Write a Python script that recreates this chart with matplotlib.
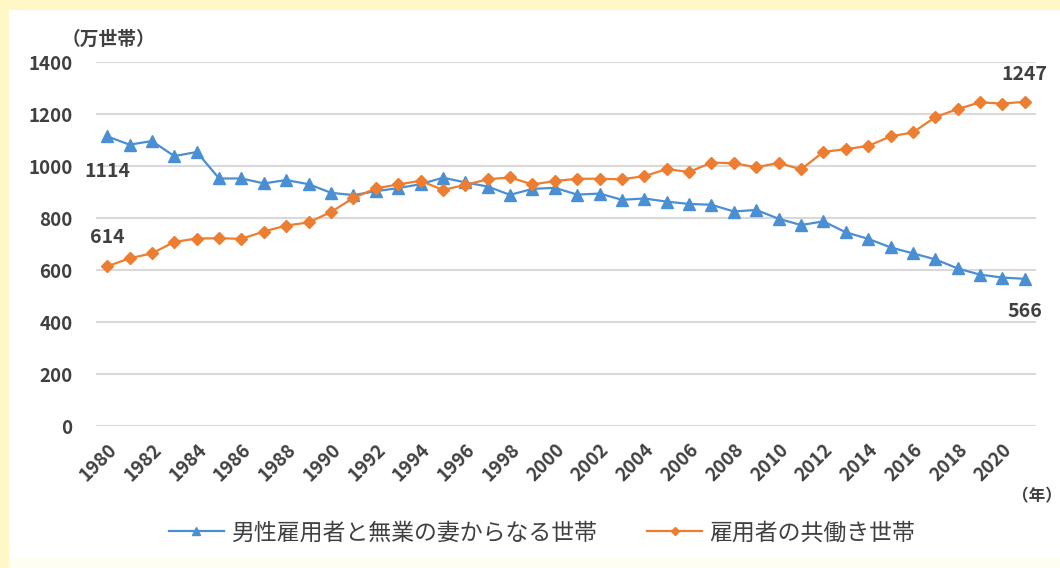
import matplotlib
matplotlib.use('Agg')
import matplotlib.pyplot as plt
from matplotlib.patches import Rectangle

plt.rcParams['font.family'] = ['Noto Sans CJK JP', 'DejaVu Sans']

# Datos
years = list(range(1980, 2022))
single_income = [1114, 1082, 1096, 1038, 1054, 952, 952, 933, 946, 930,
                 897, 888, 903, 915, 930, 955, 937, 921, 889, 912,
                 916, 890, 894, 870, 875, 863, 854, 851, 825, 831,
                 797, 773, 787, 745, 720, 687, 664, 641, 606, 582,
                 571, 566]
dual_income = [614, 645, 664, 708, 721, 722, 720, 748, 771, 783,
               823, 877, 914, 929, 943, 908, 927, 949, 956, 929,
               942, 951, 951, 949, 961, 988, 977, 1013, 1011, 995,
               1012, 987, 1054, 1065, 1077, 1114, 1129, 1188, 1219, 1245,
               1240, 1247]
label_single = '男性雇用者と無業の妻からなる世帯'
label_dual = '雇用者の共働き世帯'
yticks = [0, 200, 400, 600, 800, 1000, 1200, 1400]
xticks = list(range(1980, 2021, 2))

text_color = '#404040'
blue = '#4a8fd4'
orange = '#ed7d31'

fig = plt.figure(figsize=(10.6, 5.68), dpi=100)
fig.patch.set_facecolor('#fff8c6')
# Marco blanco
fig.patches.append(Rectangle((9 / 1060, 0), 1, 1 - 10 / 568,
                             transform=fig.transFigure, facecolor='#fffef2',
                             edgecolor='none', zorder=-2))
fig.patches.append(Rectangle((9 / 1060, 10 / 568), 1, 1 - 20 / 568,
                             transform=fig.transFigure, facecolor='white',
                             edgecolor='none', zorder=-1))

ax = fig.add_axes([96 / 1060, 1 - 426 / 568, 940 / 1060, 364 / 568])
ax.set_facecolor('none')

ax.plot(years, single_income, color=blue, lw=1.6, marker='^', ms=8,
        label=label_single, zorder=3)
ax.plot(years, dual_income, color=orange, lw=1.6, marker='D', ms=6,
        label=label_dual, zorder=3)

ax.set_xlim(1979.5, 2021.5)
ax.set_ylim(0, 1400)
ax.set_yticks(yticks)
ax.set_xticks(xticks)
ax.set_xticklabels([str(y) for y in xticks], rotation=45, ha='right',
                   rotation_mode='anchor', fontsize=13.5, fontweight='bold',
                   color=text_color)
ax.set_yticklabels([str(v) for v in yticks], fontsize=13.5,
                   fontweight='bold', color=text_color)
ax.tick_params(axis='both', length=0)
ax.tick_params(axis='y', pad=17)
ax.tick_params(axis='x', pad=10)
ax.grid(axis='y', color='#d9d9d9', lw=1.5)
for s in ax.spines.values():
    s.set_visible(False)

# Etiquetas de extremos
lab = dict(fontsize=14, fontweight='bold', color=text_color, ha='center')
ax.annotate(str(single_income[0]), (years[0], single_income[0]),
            xytext=(0, -32), textcoords='offset points', va='bottom', **lab)
ax.annotate(str(dual_income[0]), (years[0], dual_income[0]),
            xytext=(0, 14), textcoords='offset points', va='bottom', **lab)
ax.annotate(str(dual_income[-1]), (years[-1], dual_income[-1]),
            xytext=(0, 13), textcoords='offset points', va='bottom', **lab)
ax.annotate(str(single_income[-1]), (years[-1], single_income[-1]),
            xytext=(0, -17), textcoords='offset points', va='top', **lab)

fig.text(108 / 1060, 1 - 39 / 568, '（万世帯）', fontsize=13.5,
         fontweight='bold', color=text_color, ha='center', va='center')
fig.text(1037 / 1060, 1 - 496 / 568, '（年）', fontsize=12,
         fontweight='bold', color=text_color, ha='center', va='center')

fig.legend(loc='center', bbox_to_anchor=(542 / 1060, 1 - 533 / 568),
           ncol=2, frameon=False, fontsize=16.5, handlelength=2.4,
           handletextpad=0.3, columnspacing=2.2, labelcolor=text_color,
           markerscale=0.75)

fig.savefig('out.png', dpi=100)
